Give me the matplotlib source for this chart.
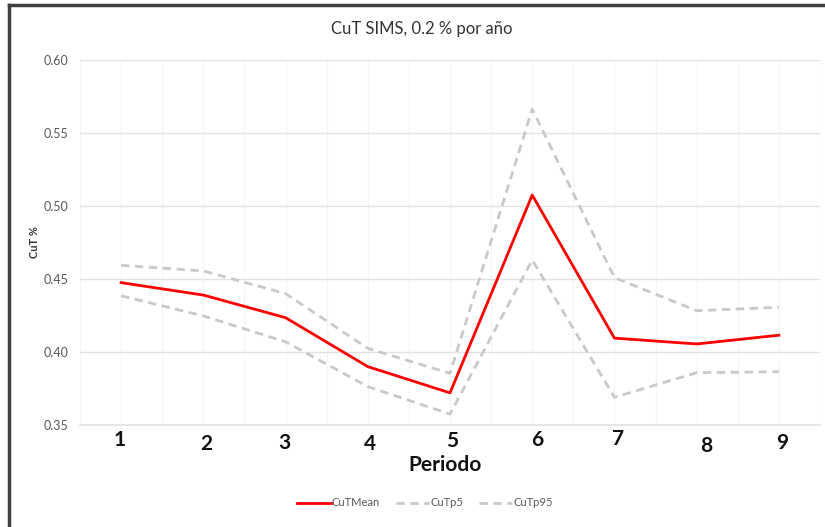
import numpy as np
import matplotlib.pyplot as plt
from matplotlib.lines import Line2D

# Data
periodos = [1, 2, 3, 4, 5, 6, 7, 8, 9]
cut_mean = [0.4475, 0.439, 0.4235, 0.390, 0.372, 0.5075, 0.4095, 0.4055, 0.4115]
cut_p5 = [0.4385, 0.4247, 0.407, 0.3763, 0.3575, 0.463, 0.369, 0.3858, 0.3865]
cut_p95 = [0.4594, 0.4555, 0.440, 0.4025, 0.3854, 0.5664, 0.4509, 0.4283, 0.4306]
yticks = [0.35, 0.40, 0.45, 0.50, 0.55, 0.60]

# Hand-placed period labels in the original (pixel offsets from the point)
lab_dx = [-1, 3, -1, 2, 2, 5, 4, 10, 3]
lab_dy = [15, 19, 18, 19, 16, 15, 14, 21, 18]

plt.rcParams['font.family'] = ['Lato', 'DejaVu Sans']

fig = plt.figure(figsize=(8.25, 5.27), dpi=100)
ax = fig.add_axes([80/825, 1-425/527, 740/825, 365/527])

# figure frame: only top and left edges show in the reference
fig.add_artist(Line2D([9/825, 9/825], [0, 1-5/527], transform=fig.transFigure,
                      color='#404040', lw=2.5))
fig.add_artist(Line2D([9/825, 1], [1-5/527, 1-5/527], transform=fig.transFigure,
                      color='#404040', lw=2.5))

dash = (0, (3, 2))
ax.plot(periodos, cut_mean, color='#ff0000', lw=2.0, label='CuTMean', zorder=3)
ax.plot(periodos, cut_p5, color='#c9c9c9', lw=2.0, ls=dash, label='CuTp5', zorder=2)
ax.plot(periodos, cut_p95, color='#c9c9c9', lw=2.0, ls=dash, label='CuTp95', zorder=2)

ax.set_xlim(0.5, 9.5)
ax.set_ylim(0.35, 0.60)
ax.set_yticks(yticks)
ax.set_yticklabels([f'{v:.2f}' for v in yticks], fontsize=9, color='#595959')
ax.set_xticks(np.arange(0.5, 9.6, 0.5))
ax.set_xticklabels([])
ax.tick_params(length=0, pad=8.5)
ax.grid(axis='y', color='#e3e3e3', lw=1)
ax.grid(axis='x', color='#f4f4f4', lw=0.8)
ax.set_axisbelow(True)
for s in ['top', 'right', 'left']:
    ax.spines[s].set_visible(False)
ax.spines['bottom'].set_color('#e3e3e3')
ax.spines['bottom'].set_linewidth(1.2)

for i, p in enumerate(periodos):
    ax.annotate(str(p), xy=(p, 0), xycoords=('data', 'axes fraction'),
                xytext=(lab_dx[i]*0.72, -lab_dy[i]*0.72), textcoords='offset points',
                ha='center', va='center', fontsize=15, fontweight='bold', color='#111111')

fig.text(445/825, 1-465/527, 'Periodo', ha='center', va='center', fontsize=15,
         fontweight='bold', color='#111111')
fig.text(34/825, 1-242/527, 'CuT %', rotation=90, ha='center', va='center',
         fontsize=8, fontweight='bold', color='#333333')
fig.text(422/825, 1-29/527, 'CuT SIMS, 0.2 % por año', ha='center', va='center',
         fontsize=12, color='#333333')

fig.legend(loc='center', bbox_to_anchor=(425/825, 1-503/527), ncol=3, frameon=False,
           fontsize=8, handlelength=3.0, columnspacing=1.4, handletextpad=0.1,
           labelcolor='#595959')

fig.savefig('out.png', dpi=100)
